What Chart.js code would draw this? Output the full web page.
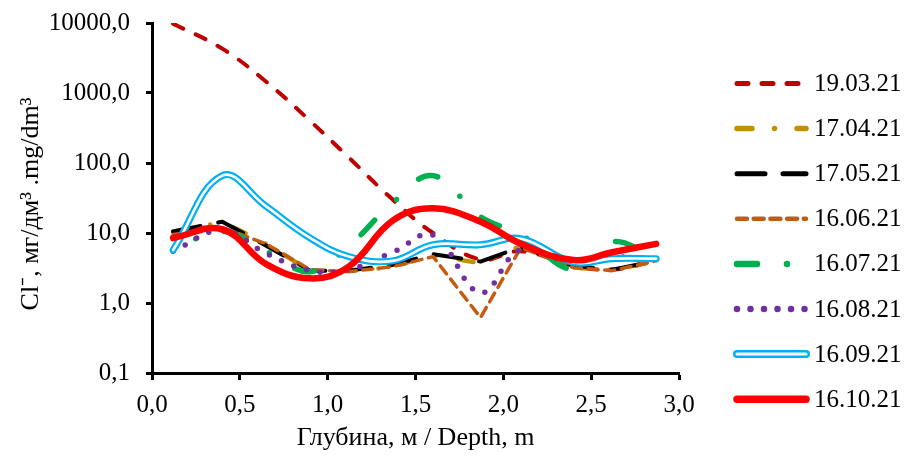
<!DOCTYPE html>
<html>
<head>
<meta charset="utf-8">
<script src="https://cdn.jsdelivr.net/npm/chart.js@4.4.1/dist/chart.umd.min.js"></script>
<style>
html,body{margin:0;padding:0;background:#fff;}
#c{display:block;}
</style>
</head>
<body>
<canvas id="c" width="907" height="457"></canvas>
<script>
// ---- data ----
const depths = [0.12, 0.4, 0.65, 0.9, 1.12, 1.37, 1.6, 1.87, 2.1, 2.4, 2.62, 2.87];
const seriesLabels = ['19.03.21', '17.04.21', '17.05.21', '16.06.21', '16.07.21', '16.08.21', '16.09.21', '16.10.21'];
const cl_190321 = [9800, 4300, 1450, 400, 120, 30, 10, 4.2, 5.5, 3.4, 3.0, 4.0];
const cl_170421 = [10.5, 13.5, 7.0, 3.0, 2.9, 3.3, 4.8, 3.8, 6.3, 3.3, 3.0, 4.0];
const cl_170521 = [10.5, 14.5, 6.6, 2.9, 2.9, 3.5, 5.0, 3.9, 6.3, 3.4, 3.0, 4.0];
const cl_160621 = [9.5, 12.0, 7.0, 3.0, 2.8, 3.3, 4.6, 0.62, 6.2, 3.2, 2.9, 4.0];
const cl_160721 = [5.8, 10.5, 5.5, 2.8, 6.5, 27, 66, 17, 9.5, 3.0, 7.5, 4.3];
const cl_160821 = [5.5, 11.0, 5.1, 2.9, 3.0, 5.3, 9.3, 1.4, 5.8, 3.7, 4.5, 4.2];
const cl_160921 = [5.7, 66, 24, 8.5, 4.6, 4.0, 6.8, 6.8, 8.3, 3.8, 4.3, 4.3];
const cl_161021 = [8.5, 11.3, 3.6, 2.25, 3.3, 15, 22.5, 14.5, 7.0, 4.1, 5.3, 7.0];
const xTicks = [0, 0.5, 1.0, 1.5, 2.0, 2.5, 3.0];
const yTicks = [0.1, 1, 10, 100, 1000, 10000];
const xTitle = 'Глубина, м / Depth, m';
const yTitle = 'Cl\u207B, мг/дм\u00B3 .mg/dm\u00B3';

// ---- styles ----
const FONT = "'Liberation Serif', 'Times New Roman', serif";
const styles = [
  {color: '#C00000', width: 4, dash: [11, 14], tension: 0.4, offset: 0},
  {color: '#BF9000', width: 4.5, dash: [15, 22.5, 0, 22.5], tension: 0.2, offset: 0},
  {color: '#000000', width: 4, dash: [28, 18], tension: 0, offset: 0},
  {color: '#C55A11', width: 3.5, dash: [10, 6.7], tension: 0, offset: 0},
  {color: '#00B050', width: 5.5, dash: [20, 30, 0, 30], tension: 0.4, offset: 25},
  {color: '#7030A0', width: 5.5, dash: [0, 13.5], tension: 0.4, offset: 0},
  {color: '#00B0F0', width: 7, dash: [], tension: 0.4, offset: 0, double: true},
  {color: '#FF0000', width: 6.5, dash: [], tension: 0.4, offset: 0}
];
const seriesValues = [cl_190321, cl_170421, cl_170521, cl_160621, cl_160721, cl_160821, cl_160921, cl_161021];

const datasets = [];
seriesValues.forEach((vals, i) => {
  const st = styles[i];
  const pts = depths.map((d, k) => ({x: d, y: vals[k]}));
  datasets.push({
    label: seriesLabels[i], data: pts, borderColor: st.color, borderWidth: st.width,
    borderDash: st.dash, borderDashOffset: st.offset, borderCapStyle: 'round', borderJoinStyle: 'round',
    tension: st.tension, pointRadius: 0, fill: false
  });
  if (st.double) {
    datasets.push({
      label: '', data: pts, borderColor: '#FFFFFF', borderWidth: 2.6,
      borderCapStyle: 'round', borderJoinStyle: 'round',
      tension: st.tension, pointRadius: 0, fill: false
    });
  }
});
const N = datasets.length;
datasets.forEach((d, i) => { d.order = N - i; });

const fmt = v => Number(v).toFixed(1).replace('.', ',');

const legendPlugin = {
  id: 'customLegend',
  afterDraw(chart) {
    const ctx = chart.ctx;
    const x0 = 737, x1 = 806, y0 = 83.5, dy = 45.1;
    ctx.save();
    seriesLabels.forEach((lab, i) => {
      const st = styles[i];
      const y = y0 + i * dy;
      ctx.lineCap = 'round';
      ctx.strokeStyle = st.color;
      ctx.lineWidth = st.double ? 8 : st.width + 1;
      ctx.setLineDash(st.dash);
      ctx.lineDashOffset = 0;
      ctx.beginPath(); ctx.moveTo(x0, y); ctx.lineTo(x1, y); ctx.stroke();
      if (st.double) {
        ctx.setLineDash([]);
        ctx.strokeStyle = '#fff'; ctx.lineWidth = 3;
        ctx.beginPath(); ctx.moveTo(x0, y); ctx.lineTo(x1, y); ctx.stroke();
      }
      ctx.setLineDash([]);
      ctx.fillStyle = '#000';
      ctx.font = '25px ' + FONT;
      ctx.textAlign = 'left'; ctx.textBaseline = 'middle';
      ctx.fillText(lab, 814, y + 1);
    });
    // y axis title
    ctx.translate(31, 204);
    ctx.rotate(-Math.PI / 2);
    ctx.textAlign = 'center'; ctx.textBaseline = 'middle';
    ctx.font = '26px ' + FONT;
    ctx.fillText(yTitle, 0, 0);
    ctx.restore();
  }
};

new Chart(document.getElementById('c'), {
  type: 'line',
  data: {datasets},
  plugins: [legendPlugin],
  options: {
    responsive: false, animation: false, devicePixelRatio: 1,
    layout: {padding: {top: 23, right: 228, left: 0, bottom: 0}},
    plugins: {legend: {display: false}, tooltip: {enabled: false}},
    scales: {
      x: {
        type: 'linear', min: 0, max: 3, position: 'bottom',
        afterBuildTicks: s => { s.ticks = xTicks.map(v => ({value: v})); },
        afterFit: s => { s.height = 84; s.paddingLeft = 0; s.paddingRight = 0; },
        ticks: {callback: v => fmt(v), color: '#000', font: {family: FONT, size: 25}, padding: 10, maxRotation: 0, autoSkip: false},
        grid: {drawOnChartArea: false, drawTicks: true, tickLength: 7, tickWidth: 3, tickColor: '#000'},
        border: {display: true, color: '#000', width: 3},
        title: {display: true, text: xTitle, color: '#000', font: {family: FONT, size: 26}, padding: {top: 0, bottom: 3}}
      },
      y: {
        type: 'logarithmic', min: 0.1, max: 10000, position: 'left',
        afterBuildTicks: s => { s.ticks = yTicks.map(v => ({value: v})); },
        afterFit: s => { s.width = 152; s.paddingTop = 0; s.paddingBottom = 0; },
        ticks: {callback: v => fmt(v), color: '#000', font: {family: FONT, size: 25}, padding: 16, autoSkip: false},
        grid: {drawOnChartArea: false, drawTicks: true, tickLength: 6, tickWidth: 3, tickColor: '#000'},
        border: {display: true, color: '#000', width: 3}
      }
    }
  }
});
</script>
</body>
</html>
